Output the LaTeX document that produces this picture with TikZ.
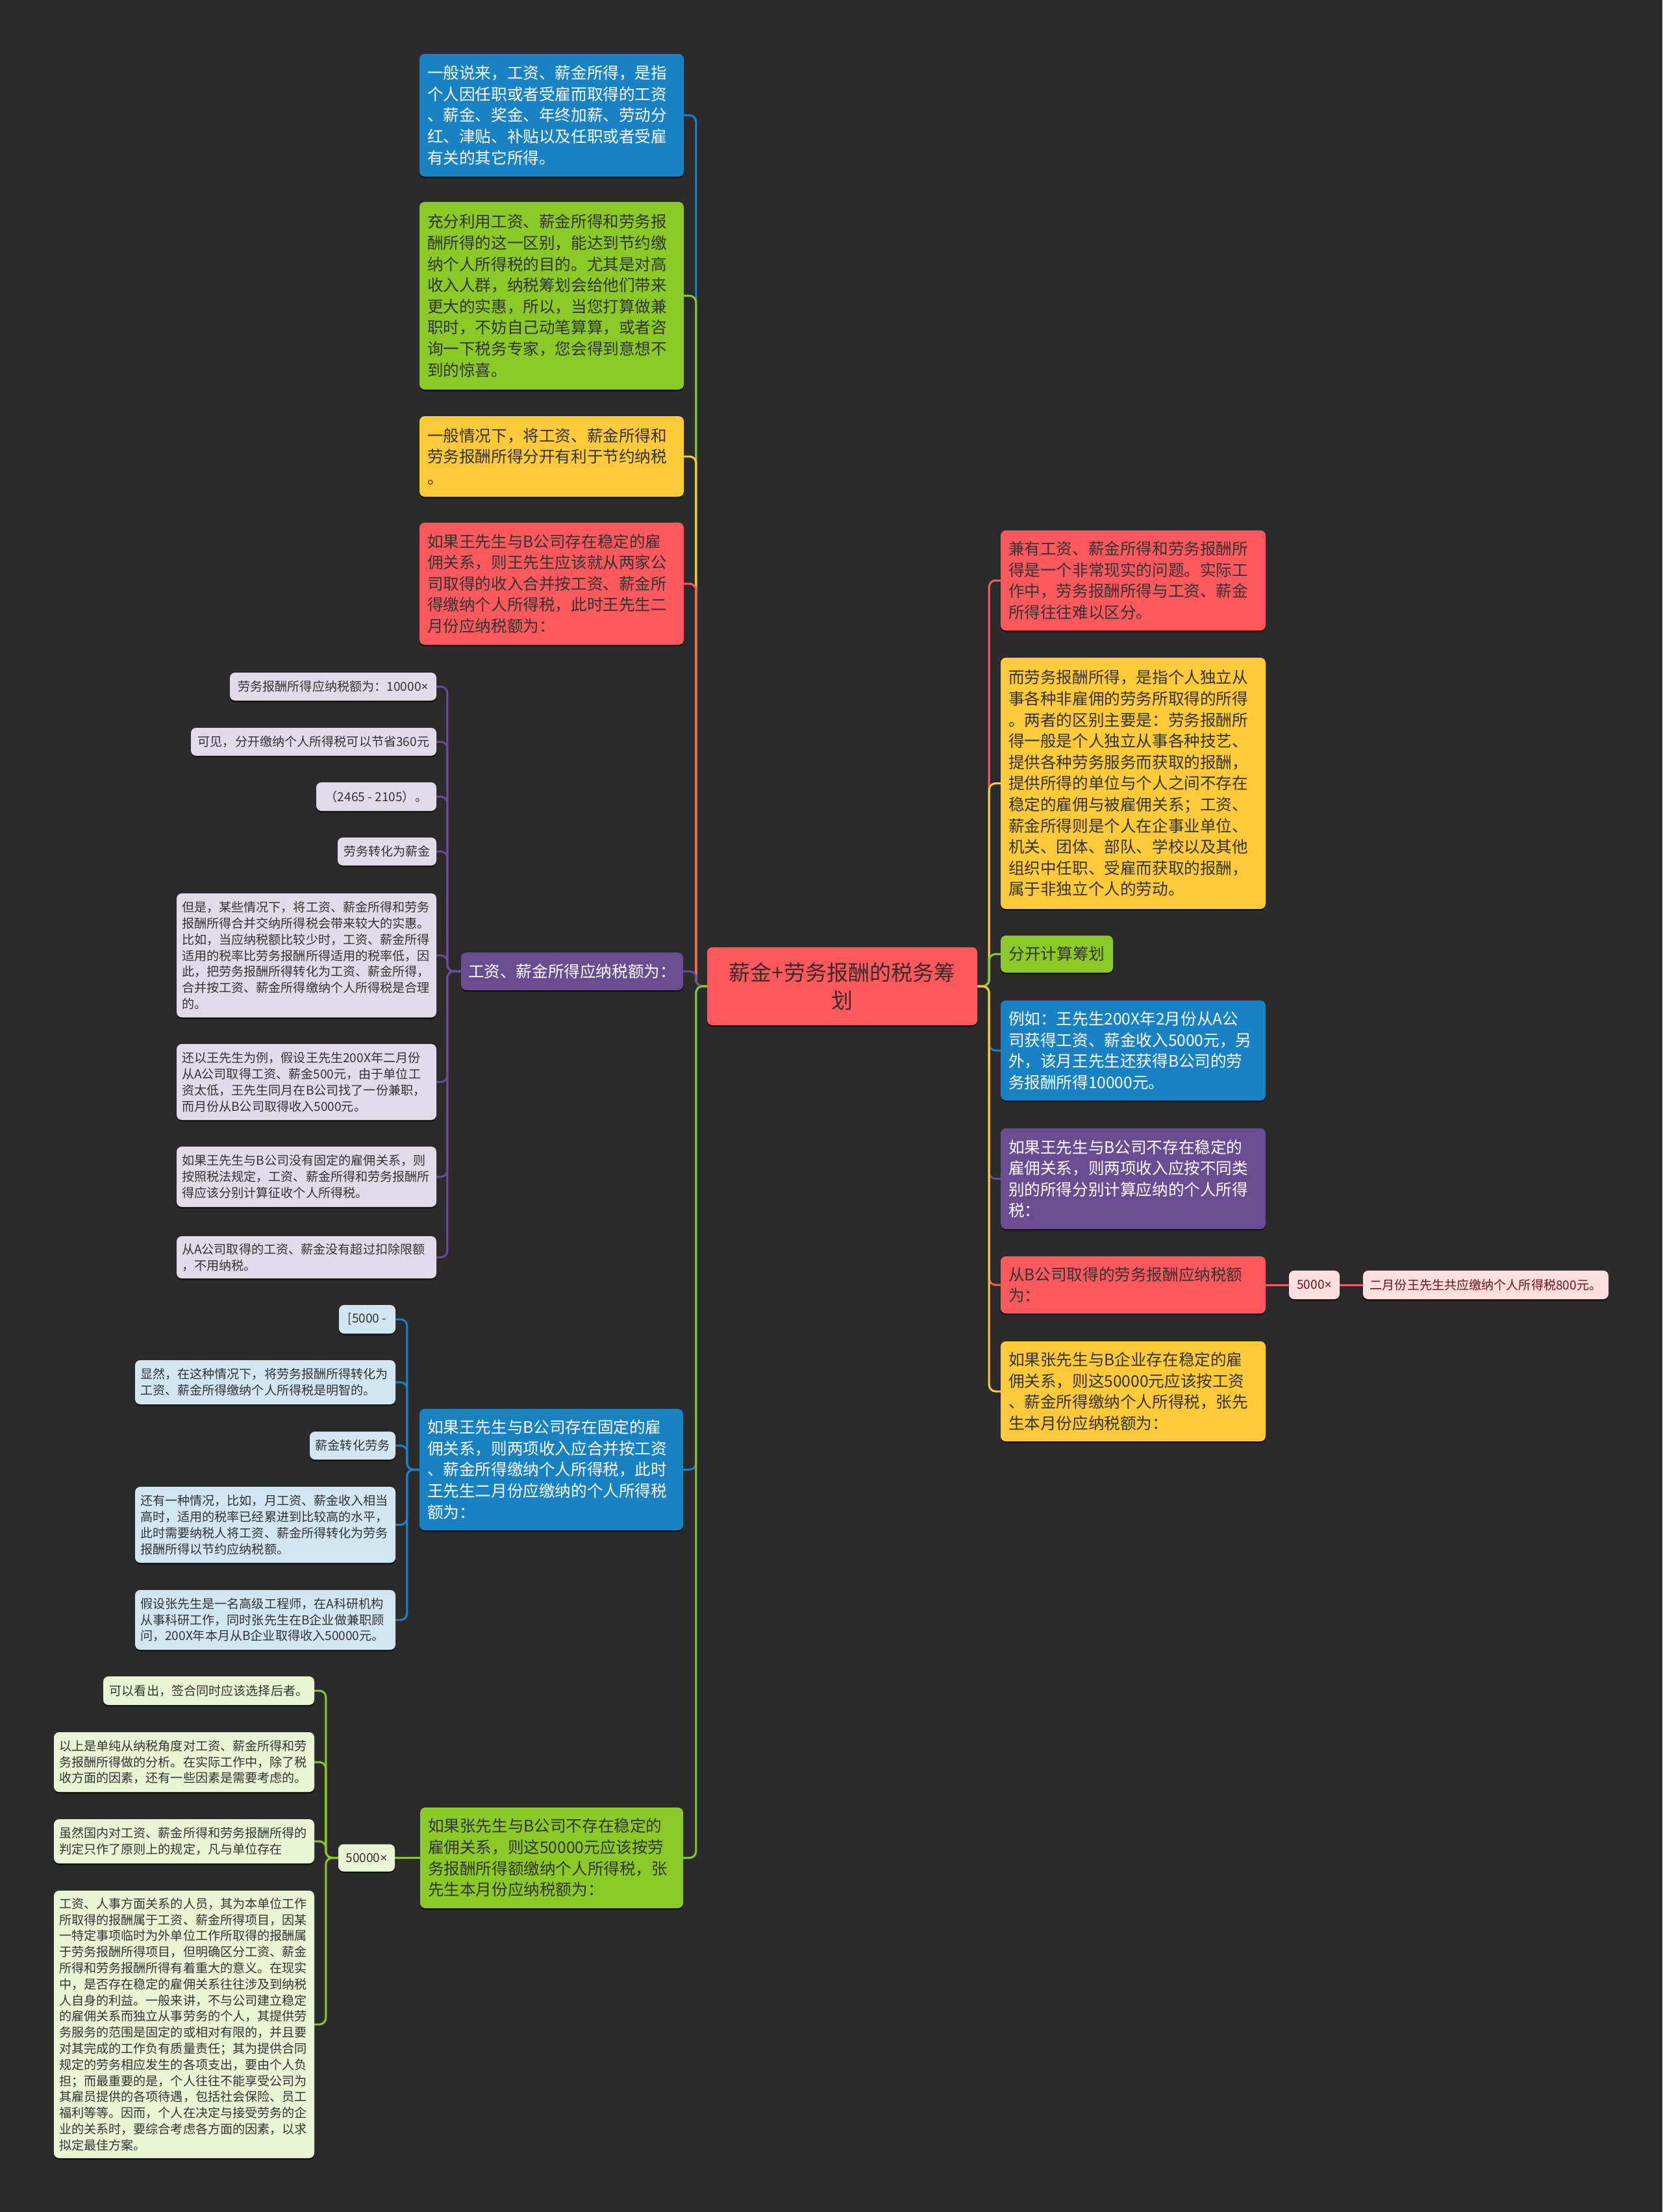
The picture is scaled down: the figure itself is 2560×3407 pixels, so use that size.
\documentclass[tikz,border=0pt]{standalone}
\usepackage{fontspec}
\setmainfont{Noto Sans CJK SC}
\newfontfamily\latinf{Noto Sans}
\newcommand\tms{{\latinf ×}}
\usetikzlibrary{shadows}
\definecolor{bgc}{HTML}{2B2B2B}
\definecolor{cR}{HTML}{FF595E}
\definecolor{cY}{HTML}{FFCA3A}
\definecolor{cG}{HTML}{8AC926}
\definecolor{cB}{HTML}{1982C4}
\definecolor{cP}{HTML}{6A4C93}
\definecolor{tx}{HTML}{333333}
\definecolor{roottx}{HTML}{3A2A2C}
\definecolor{dred}{HTML}{6E1016}
\begin{document}
\begin{tikzpicture}[x=1pt,y=1pt,
  box/.style={rectangle, rounded corners=8pt, inner sep=0pt,
    drop shadow={shadow xshift=0pt,shadow yshift=-2.5pt,opacity=0.55,fill=black}},
  big/.style={box, font=\fontsize{24.6}{32.6}\selectfont, align=left},
  small/.style={box, font=\fontsize{19.1}{24.8}\selectfont, align=left, text=tx},
  conn/.style={line width=3pt, rounded corners=10pt},
]
\useasboundingbox (0,0) rectangle (2560,-3407);
\fill[bgc] (0,0) rectangle (2560,-3407);

% root
\node[box, fill=cR, text=roottx, font=\fontsize{33}{43}\selectfont, align=center,
  minimum width=416pt, minimum height=120pt] (root) at (1297,-1519) {薪金+劳务报酬的税务筹\\划};

% left main branches
\node[big, fill=cB, text=white, text width=383pt, minimum width=407pt, minimum height=189pt] (b1) at (849.5,-177.5)
{一般说来，工资、薪金所得，是指\\个人因任职或者受雇而取得的工资\\、薪金、奖金、年终加薪、劳动分\\红、津贴、补贴以及任职或者受雇\\有关的其它所得。};
\node[big, fill=cG, text=tx, text width=383pt, minimum width=407pt, minimum height=289pt] (g1) at (849.5,-455.5)
{充分利用工资、薪金所得和劳务报\\酬所得的这一区别，能达到节约缴\\纳个人所得税的目的。尤其是对高\\收入人群，纳税筹划会给他们带来\\更大的实惠，所以，当您打算做兼\\职时，不妨自己动笔算算，或者咨\\询一下税务专家，您会得到意想不\\到的惊喜。};
\node[big, fill=cY, text=tx, text width=383pt, minimum width=407pt, minimum height=124pt] (y1) at (849.5,-703)
{一般情况下，将工资、薪金所得和\\劳务报酬所得分开有利于节约纳税\\。};
\node[big, fill=cR, text=tx, text width=383pt, minimum width=407pt, minimum height=188pt] (r1) at (849.5,-899)
{如果王先生与B公司存在稳定的雇\\佣关系，则王先生应该就从两家公\\司取得的收入合并按工资、薪金所\\得缴纳个人所得税，此时王先生二\\月份应纳税额为：};
\node[big, fill=cP, text=white, align=center, minimum width=342pt, minimum height=58pt] (pm) at (881,-1496)
{工资、薪金所得应纳税额为：};
\node[big, fill=cB, text=white, text width=382pt, minimum width=406pt, minimum height=187pt] (b2) at (849,-2263.5)
{如果王先生与B公司存在固定的雇\\佣关系，则两项收入应合并按工资\\、薪金所得缴纳个人所得税，此时\\王先生二月份应缴纳的个人所得税\\额为：};
\node[big, fill=cG, text=tx, text width=381pt, minimum width=405pt, minimum height=155pt] (g2) at (849.5,-2861.5)
{如果张先生与B公司不存在稳定的\\雇佣关系，则这50000元应该按劳\\务报酬所得额缴纳个人所得税，张\\先生本月份应纳税额为：};

% purple children
\node[small, fill=cP!20, align=center, minimum width=318pt, minimum height=43pt] (p1) at (513,-1057.5) {劳务报酬所得应纳税额为：10000\tms};
\node[small, fill=cP!20, align=center, minimum width=378pt, minimum height=43pt] (p2) at (483,-1142.5) {可见，分开缴纳个人所得税可以节省360元};
\node[small, fill=cP!20, align=center, minimum width=185pt, minimum height=44pt] (p3) at (579.5,-1227) {（2465 - 2105）。};
\node[small, fill=cP!20, align=center, minimum width=152pt, minimum height=43pt] (p4) at (596,-1311.5) {劳务转化为薪金};
\node[small, fill=cP!20, text width=384pt, minimum width=400pt, minimum height=191pt] (p5) at (472,-1471.5)
{但是，某些情况下，将工资、薪金所得和劳务\\报酬所得合并交纳所得税会带来较大的实惠。\\比如，当应纳税额比较少时，工资、薪金所得\\适用的税率比劳务报酬所得适用的税率低，因\\此，把劳务报酬所得转化为工资、薪金所得，\\合并按工资、薪金所得缴纳个人所得税是合理\\的。};
\node[small, fill=cP!20, text width=384pt, minimum width=400pt, minimum height=117pt] (p6) at (472,-1666.5)
{还以王先生为例，假设王先生200X年二月份\\从A公司取得工资、薪金500元，由于单位工\\资太低，王先生同月在B公司找了一份兼职，\\而月份从B公司取得收入5000元。};
\node[small, fill=cP!20, text width=384pt, minimum width=400pt, minimum height=93pt] (p7) at (472,-1812.5)
{如果王先生与B公司没有固定的雇佣关系，则\\按照税法规定，工资、薪金所得和劳务报酬所\\得应该分别计算征收个人所得税。};
\node[small, fill=cP!20, text width=384pt, minimum width=400pt, minimum height=65pt] (p8) at (472,-1936.5)
{从A公司取得的工资、薪金没有超过扣除限额\\，不用纳税。};

% blue children
\node[small, fill=cB!20, align=center, minimum width=87pt, minimum height=44pt] (q1) at (565.5,-2032) {[5000 -};
\node[small, fill=cB!20, text width=385pt, minimum width=401pt, minimum height=68pt] (q2) at (408.5,-2129)
{显然，在这种情况下，将劳务报酬所得转化为\\工资、薪金所得缴纳个人所得税是明智的。};
\node[small, fill=cB!20, align=center, minimum width=132pt, minimum height=43pt] (q3) at (543,-2226.5) {薪金转化劳务};
\node[small, fill=cB!20, text width=385pt, minimum width=401pt, minimum height=117pt] (q4) at (408.5,-2348.5)
{还有一种情况，比如，月工资、薪金收入相当\\高时，适用的税率已经累进到比较高的水平，\\此时需要纳税人将工资、薪金所得转化为劳务\\报酬所得以节约应纳税额。};
\node[small, fill=cB!20, text width=385pt, minimum width=401pt, minimum height=92pt] (q5) at (408.5,-2495)
{假设张先生是一名高级工程师，在A科研机构\\从事科研工作，同时张先生在B企业做兼职顾\\问，200X年本月从B企业取得收入50000元。};

% green children
\node[small, fill=cG!20, align=center, minimum width=87pt, minimum height=42pt] (g50) at (564.5,-2861.5) {50000\tms};
\node[small, fill=cG!20, align=center, minimum width=325pt, minimum height=44pt] (s1) at (321.5,-2604) {可以看出，签合同时应该选择后者。};
\node[small, fill=cG!20, text width=385pt, minimum width=401pt, minimum height=92pt] (s2) at (283.5,-2714)
{以上是单纯从纳税角度对工资、薪金所得和劳\\务报酬所得做的分析。在实际工作中，除了税\\收方面的因素，还有一些因素是需要考虑的。};
\node[small, fill=cG!20, text width=385pt, minimum width=401pt, minimum height=68pt] (s3) at (283.5,-2836)
{虽然国内对工资、薪金所得和劳务报酬所得的\\判定只作了原则上的规定，凡与单位存在};
\node[small, fill=cG!20, text width=385pt, minimum width=401pt, minimum height=412pt] (s4) at (283.5,-3118)
{工资、人事方面关系的人员，其为本单位工作\\所取得的报酬属于工资、薪金所得项目，因某\\一特定事项临时为外单位工作所取得的报酬属\\于劳务报酬所得项目，但明确区分工资、薪金\\所得和劳务报酬所得有着重大的意义。在现实\\中，是否存在稳定的雇佣关系往往涉及到纳税\\人自身的利益。一般来讲，不与公司建立稳定\\的雇佣关系而独立从事劳务的个人，其提供劳\\务服务的范围是固定的或相对有限的，并且要\\对其完成的工作负有质量责任；其为提供合同\\规定的劳务相应发生的各项支出，要由个人负\\担；而最重要的是，个人往往不能享受公司为\\其雇员提供的各项待遇，包括社会保险、员工\\福利等等。因而，个人在决定与接受劳务的企\\业的关系时，要综合考虑各方面的因素，以求\\拟定最佳方案。};

% right main branches
\node[big, fill=cR, text=tx, text width=384pt, minimum width=408pt, minimum height=154pt] (rr1) at (1745,-894)
{兼有工资、薪金所得和劳务报酬所\\得是一个非常现实的问题。实际工\\作中，劳务报酬所得与工资、薪金\\所得往往难以区分。};
\node[big, fill=cY, text=tx, text width=384pt, minimum width=408pt, minimum height=387pt] (ry1) at (1745,-1206.5)
{而劳务报酬所得，是指个人独立从\\事各种非雇佣的劳务所取得的所得\\。两者的区别主要是：劳务报酬所\\得一般是个人独立从事各种技艺、\\提供各种劳务服务而获取的报酬，\\提供所得的单位与个人之间不存在\\稳定的雇佣与被雇佣关系；工资、\\薪金所得则是个人在企事业单位、\\机关、团体、部队、学校以及其他\\组织中任职、受雇而获取的报酬，\\属于非独立个人的劳动。};
\node[big, fill=cG, text=tx, align=center, minimum width=173pt, minimum height=57pt] (rg) at (1627.5,-1469.5) {分开计算筹划};
\node[big, fill=cB, text=white, text width=384pt, minimum width=408pt, minimum height=154pt] (rb) at (1745,-1618)
{例如：王先生200X年2月份从A公\\司获得工资、薪金收入5000元，另\\外，该月王先生还获得B公司的劳\\务报酬所得10000元。};
\node[big, fill=cP, text=white, text width=384pt, minimum width=408pt, minimum height=155pt] (rp) at (1745,-1815.5)
{如果王先生与B公司不存在稳定的\\雇佣关系，则两项收入应按不同类\\别的所得分别计算应纳的个人所得\\税：};
\node[big, fill=cR, text=tx, text width=384pt, minimum width=408pt, minimum height=88pt] (rr2) at (1745,-1979)
{从B公司取得的劳务报酬应纳税额\\为：};
\node[big, fill=cY, text=tx, text width=384pt, minimum width=408pt, minimum height=154pt] (ry2) at (1745,-2143)
{如果张先生与B企业存在稳定的雇\\佣关系，则这50000元应该按工资\\、薪金所得缴纳个人所得税，张先\\生本月份应纳税额为：};
\node[small, fill=cR!20, text=dred, align=center, minimum width=78pt, minimum height=44pt] (r5) at (2024,-1979) {5000\tms};
\node[small, fill=cR!20, text=dred, align=center, minimum width=378pt, minimum height=44pt] (rf) at (2288,-1979) {二月份王先生共应缴纳个人所得税800元。};

% connectors: root, left side (top to bottom)
\draw[conn, cB] (root.west) -- ++(-17,0) |- (b1.east);
\draw[conn, cG] (root.west) -- ++(-17,0) |- (g1.east);
\draw[conn, cY] (root.west) -- ++(-17,0) |- (y1.east);
\draw[conn, cR] (root.west) -- ++(-17,0) |- (r1.east);
\draw[conn, cP] (root.west) -- ++(-17,0) |- (pm.east);
\draw[conn, cB] (root.west) -- ++(-17,0) |- (b2.east);
\draw[conn, cG] (root.west) -- ++(-17,0) |- (g2.east);
% right side
\draw[conn, cR] (root.east) -- ++(18,0) |- (rr1.west);
\draw[conn, cY] (root.east) -- ++(18,0) |- (ry1.west);
\draw[conn, cG] (root.east) -- ++(18,0) |- (rg.west);
\draw[conn, cB] (root.east) -- ++(18,0) |- (rb.west);
\draw[conn, cP] (root.east) -- ++(18,0) |- (rp.west);
\draw[conn, cR] (root.east) -- ++(18,0) |- (rr2.west);
\draw[conn, cY] (root.east) -- ++(18,0) |- (ry2.west);
% purple subtree
\foreach \n in {p1,p2,p3,p4,p5,p6,p7,p8}
  \draw[conn, cP] (pm.west) -- ++(-21,0) |- (\n.east);
% blue subtree
\foreach \n in {q1,q2,q3,q4,q5}
  \draw[conn, cB] (b2.west) -- ++(-19,0) |- (\n.east);
% green subtree
\draw[conn, cG] (g2.west) -- (g50.east);
\foreach \n in {s1,s2,s3,s4}
  \draw[conn, cG] (g50.west) -- ++(-19,0) |- (\n.east);
% red chain
\draw[conn, cR] (rr2.east) -- (r5.west);
\draw[conn, cR] (r5.east) -- (rf.west);
\end{tikzpicture}
\end{document}
